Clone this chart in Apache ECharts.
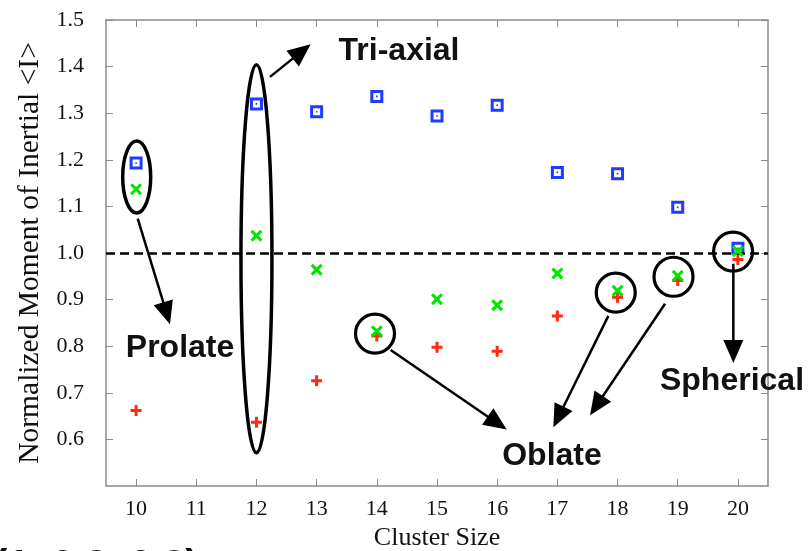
<!DOCTYPE html>
<html>
<head>
<meta charset="utf-8">
<script src="https://cdn.jsdelivr.net/npm/echarts@6/dist/echarts.min.js"></script>
<style>
  html, body { margin: 0; padding: 0; background: #fff; }
  #chart { width: 810px; height: 551px; }
</style>
</head>
<body>
<div id="chart"></div>
<script>
// Normalized principal moments of inertia per cluster size
const clusterSizes = [10, 12, 13, 14, 15, 16, 17, 18, 19, 20];
const largestMoment  = [1.193, 1.320, 1.303, 1.336, 1.294, 1.317, 1.173, 1.170, 1.098, 1.010];
const middleMoment   = [1.137, 1.037, 0.964, 0.832, 0.901, 0.888, 0.956, 0.919, 0.951, 1.004];
const smallestMoment = [0.662, 0.637, 0.726, 0.822, 0.798, 0.789, 0.865, 0.905, 0.941, 0.986];

// Tick labels
const xTicks = [10, 11, 12, 13, 14, 15, 16, 17, 18, 19, 20];
const yTicks = [0.6, 0.7, 0.8, 0.9, 1.0, 1.1, 1.2, 1.3, 1.4, 1.5];
const referenceLevel = 1.0;

// Shape annotations, in data coordinates
const ellipseNotes = [
  { x: 10.01, y: 1.163, rx: 14, ry: 36 },
  { x: 12.0, y: 0.9875, rx: 15.5, ry: 194 }
];
const circleNotes = [
  { x: 13.97, y: 0.827 },
  { x: 17.97, y: 0.915 },
  { x: 18.93, y: 0.949 },
  { x: 19.92, y: 1.003 }
];
const arrowNotes = [
  { from: [12.225, 1.378], to: [12.90, 1.448] },
  { from: [10.027, 1.074], to: [10.563, 0.847] },
  { from: [14.23, 0.792], to: [16.158, 0.621] },
  { from: [17.847, 0.865], to: [16.933, 0.626] },
  { from: [18.789, 0.891], to: [17.543, 0.652] },
  { from: [19.924, 0.977], to: [19.924, 0.764] }
];
const textNotes = [
  { text: 'Tri-axial', x: 14.369, y: 1.4333 },
  { text: 'Prolate', x: 10.730, y: 0.7958 },
  { text: 'Oblate', x: 16.911, y: 0.5633 },
  { text: 'Spherical', x: 19.902, y: 0.7248 }
];

const serif = '"Liberation Serif", "DejaVu Serif", serif';
const sans = '"Liberation Sans", Arial, sans-serif';
const frameColor = '#8a8a8a';

const squareMark = 'path://M0,0H13V13H0Z M3,3V10H10V3Z M5.7,5.7H7.3V7.3H5.7Z';
const crossMark = 'path://M0,2.2L2.2,0L6,3.8L9.8,0L12,2.2L8.2,6L12,9.8L9.8,12L6,8.2L2.2,12L0,9.8L3.8,6Z';
const plusMark = 'path://M4,0H7V4H11V7H7V11H4V7H0V4H4Z';

function pairs(values) {
  return clusterSizes.map((c, i) => [c, values[i]]);
}

function frameAxis(base) {
  return Object.assign({
    type: 'value',
    axisLine: { show: true, onZero: false, lineStyle: { color: frameColor, width: 1.5 } },
    splitLine: { show: false }
  }, base);
}

function insideTicks(values) {
  return { show: true, inside: true, length: 7, customValues: values, lineStyle: { color: frameColor, width: 1 } };
}

const chart = echarts.init(document.getElementById('chart'), null, { renderer: 'canvas' });

chart.setOption({
  animation: false,
  backgroundColor: '#fff',
  grid: { left: 106, right: 42, top: 20, bottom: 65, containLabel: false, outerBoundsMode: 'none' },
  xAxis: [
    frameAxis({
      position: 'bottom', min: 9.5, max: 20.5,
      axisTick: insideTicks(xTicks),
      axisLabel: { customValues: xTicks, color: '#111', fontFamily: serif, fontSize: 22, margin: 12 },
      name: 'Cluster Size', nameLocation: 'middle', nameGap: 33,
      nameTextStyle: { color: '#111', fontFamily: serif, fontSize: 26 }
    }),
    frameAxis({
      position: 'top', min: 9.5, max: 20.5,
      axisTick: insideTicks(xTicks),
      axisLabel: { show: false }
    })
  ],
  yAxis: [
    frameAxis({
      position: 'left', min: 0.5, max: 1.5, interval: 0.1,
      axisTick: insideTicks(yTicks),
      axisLabel: { customValues: yTicks, color: '#111', fontFamily: serif, fontSize: 22, margin: 22,
        formatter: v => Number(v).toFixed(1) },
      name: 'Normalized Moment of Inertial <I>', nameLocation: 'middle', nameGap: 60,
      nameTextStyle: { color: '#111', fontFamily: serif, fontSize: 29.5 }
    }),
    frameAxis({
      position: 'right', min: 0.5, max: 1.5, interval: 0.1,
      axisTick: insideTicks(yTicks),
      axisLabel: { show: false }
    })
  ],
  series: [
    {
      name: 'largest', type: 'scatter', xAxisIndex: 0, yAxisIndex: 0,
      data: pairs(largestMoment), symbol: squareMark, symbolSize: 13,
      itemStyle: { color: '#1e3cff', opacity: 1 }, z: 3,
      markLine: {
        silent: true, symbol: 'none', label: { show: false },
        lineStyle: { color: '#000', type: [9, 5], width: 2.5 },
        data: [{ yAxis: referenceLevel }]
      }
    },
    {
      name: 'smallest', type: 'scatter', xAxisIndex: 0, yAxisIndex: 0,
      data: pairs(smallestMoment), symbol: plusMark, symbolSize: 11,
      itemStyle: { color: '#ff2a10', opacity: 1 }, z: 4
    },
    {
      name: 'middle', type: 'scatter', xAxisIndex: 0, yAxisIndex: 0,
      data: pairs(middleMoment), symbol: crossMark, symbolSize: 12,
      itemStyle: { color: '#00e600', opacity: 1 }, z: 5
    }
  ]
});

// Annotation overlay: ellipses, circles, arrows and labels
function toPx(x, y) {
  return chart.convertToPixel({ xAxisIndex: 0, yAxisIndex: 0 }, [x, y]);
}

const ink = '#000';
const graphics = [];

ellipseNotes.forEach(e => {
  const c = toPx(e.x, e.y);
  graphics.push({
    type: 'ellipse', z: 50,
    shape: { cx: c[0], cy: c[1], rx: e.rx, ry: e.ry },
    style: { fill: 'none', stroke: ink, lineWidth: 3.5 }
  });
});

circleNotes.forEach(n => {
  const c = toPx(n.x, n.y);
  graphics.push({
    type: 'circle', z: 50,
    shape: { cx: c[0], cy: c[1], r: 19.5 },
    style: { fill: 'none', stroke: ink, lineWidth: 3.2 }
  });
});

arrowNotes.forEach(a => {
  const p0 = toPx(a.from[0], a.from[1]);
  const p1 = toPx(a.to[0], a.to[1]);
  const dx = p1[0] - p0[0], dy = p1[1] - p0[1];
  const len = Math.sqrt(dx * dx + dy * dy);
  const ux = dx / len, uy = dy / len;
  const headLen = 23, headHalf = 10;
  const bx = p1[0] - ux * headLen, by = p1[1] - uy * headLen;
  graphics.push({
    type: 'line', z: 50,
    shape: { x1: p0[0], y1: p0[1], x2: bx + ux * 2, y2: by + uy * 2 },
    style: { stroke: ink, lineWidth: 2.5 }
  });
  graphics.push({
    type: 'polygon', z: 50,
    shape: { points: [[p1[0], p1[1]], [bx - uy * headHalf, by + ux * headHalf], [bx + uy * headHalf, by - ux * headHalf]] },
    style: { fill: ink }
  });
});

textNotes.forEach(t => {
  const c = toPx(t.x, t.y);
  graphics.push({
    type: 'text', z: 60, x: c[0], y: c[1],
    style: { text: t.text, font: 'bold 32px ' + sans, fill: '#111',
      align: 'center', verticalAlign: 'middle', textAlign: 'center', textVerticalAlign: 'middle' }
  });
});

// Axis ratios caption along the bottom edge
graphics.push({
  type: 'text', z: 60, x: -6, y: 546.5,
  style: { text: '(1, 0.2, 0.3)', font: 'bold 40px ' + sans, fill: '#111',
    verticalAlign: 'top', textVerticalAlign: 'top' }
});

chart.setOption({ graphic: graphics });
</script>
</body>
</html>
